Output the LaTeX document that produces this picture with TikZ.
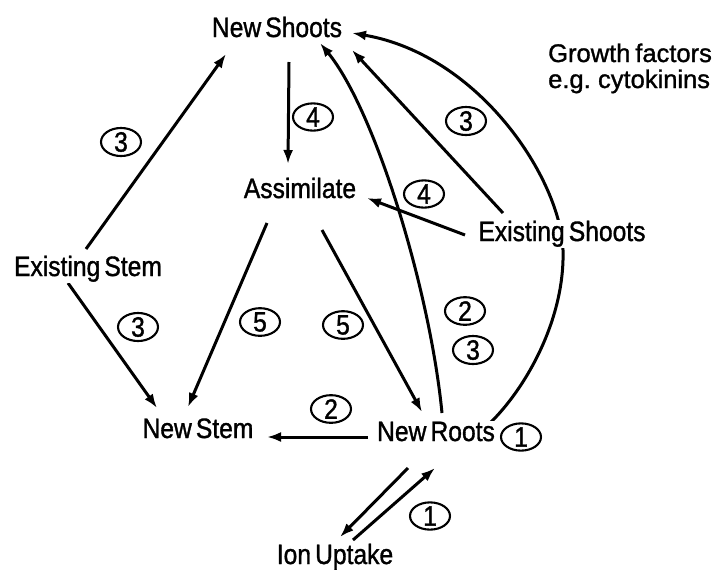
\documentclass[tikz,border=0pt]{standalone}
\usepackage{fontspec}
\setmainfont{Liberation Sans}[FakeStretch=0.88, WordSpace=0.6, FakeBold=1.2]
\newfontfamily\notefont{Liberation Sans}[WordSpace=0.7, FakeBold=1.2]
\usetikzlibrary{arrows.meta,shapes.geometric,backgrounds}

\tikzset{
  part/.style={anchor=base, inner sep=1pt, fill=white, font=\fontsize{28}{30}\selectfont},
  note/.style={anchor=base west, inner sep=0pt, font=\notefont\fontsize{25.5}{27}\selectfont},
  stage/.style={ellipse, draw, line width=2.1pt, minimum width=40pt, minimum height=27pt,
                inner sep=0pt, font=\fontsize{28}{28}\selectfont},
  flow/.style={line width=3pt, -{Latex[length=14pt,width=10pt]}}
}

\begin{document}
\begin{tikzpicture}[x=1pt, y=-1pt]
\useasboundingbox (0,0) rectangle (720,571);

% plant parts
\node[part] (ns)   at (277,37)  {New Shoots};
\node[part] (asm)  at (300,198) {Assimilate};
\node[part] (exsh) at (562,241) {Existing Shoots};
\node[part] (exst) at (88,276)  {Existing Stem};
\node[part] (nst)  at (198,438) {New Stem};
\node[part] (nr)   at (436,441) {New Roots};
\node[part] (ion)  at (335,564) {Ion Uptake};

\node[note] (gf1) at (548,62) {Growth factors};
\node[note] (gf2) at (548,88) {e.g. cytokinins};

% numbered stages
\node[stage] (s1) at (121,142) {3};
\node[stage] (s2) at (138,327) {3};
\node[stage] (s3) at (313,117) {4};
\node[stage] (s4) at (424,194) {4};
\node[stage] (s5) at (466,121) {3};
\node[stage] (s6) at (260,322) {5};
\node[stage] (s7) at (343,325) {5};
\node[stage] (s8) at (465,311) {2};
\node[stage] (s9) at (473,350) {3};
\node[stage] (s10) at (331,409) {2};
\node[stage] (s11) at (521,437) {1};
\node[stage] (s12) at (430,516) {1};

% flows between parts
\begin{scope}[on background layer]
\draw[flow] ([shift={(-2,-27)}]exst.base) -- ([shift={(-51,17)}]ns.base);
\draw[flow] ([shift={(-20,7)}]exst.base) -- ([shift={(-41,-30)}]nst.base);
\draw[flow] ([shift={(12,25)}]ns.base) -- ([shift={(-12,-34)}]asm.base);
\draw[flow] ([shift={(-97,-6)}]exsh.base) -- ([shift={(67,0)}]asm.base);
\draw[flow] ([shift={(-59,-28)}]exsh.base) -- ([shift={(75,13)}]ns.base);
\draw[flow] ([shift={(6,-28)}]nr.base) .. controls (430,290) and (375,110) .. ([shift={(43,6)}]ns.base);
\draw[flow] ([shift={(52,-16)}]nr.base) .. controls (525,390) and (565,320) .. (563,250)
            .. controls (561,180) and (480,55) .. ([shift={(75,-4)}]ns.base);
\draw[flow] ([shift={(-33,25)}]asm.base) -- ([shift={(-10,-31)}]nst.base);
\draw[flow] ([shift={(22,32)}]asm.base) -- ([shift={(-14,-29)}]nr.base);
\draw[flow] ([shift={(-68,-4)}]nr.base) -- ([shift={(69,-1)}]nst.base);
\draw[flow] ([shift={(-28,27)}]nr.base) -- ([shift={(5,-27)}]ion.base);
\draw[flow] ([shift={(18,-24)}]ion.base) -- ([shift={(-1,27)}]nr.base);
\end{scope}
\end{tikzpicture}
\end{document}
